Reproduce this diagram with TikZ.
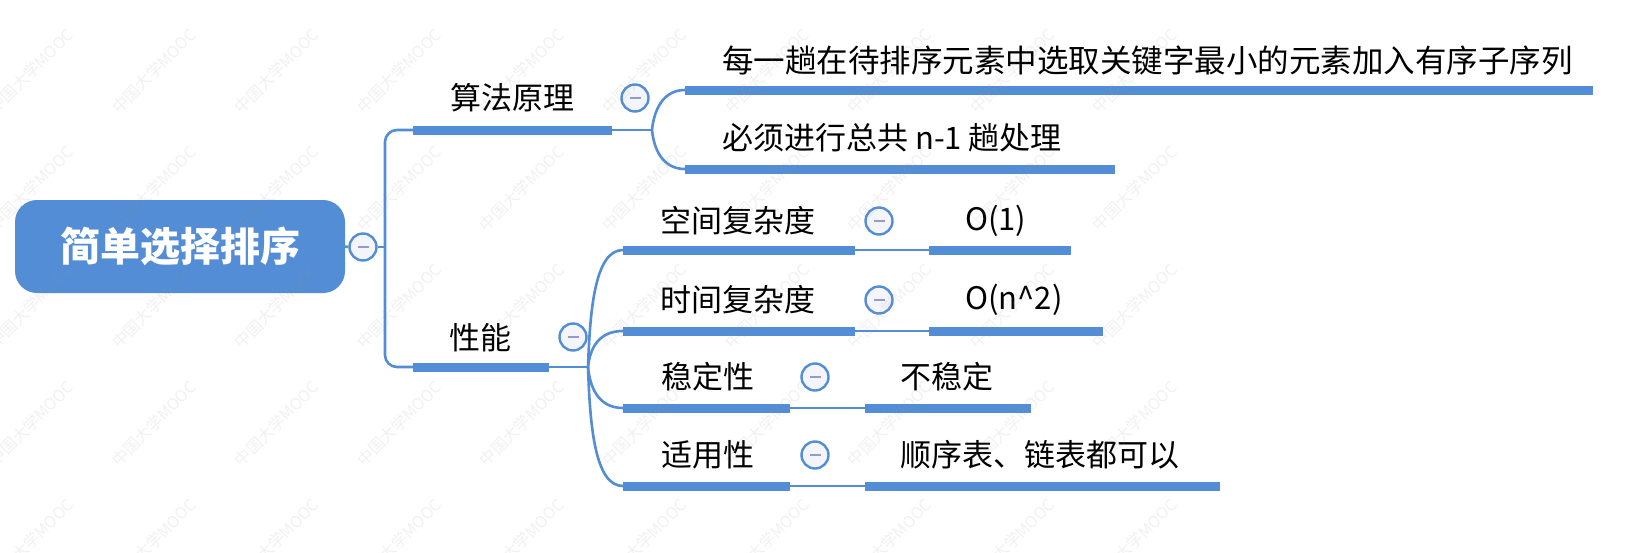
\documentclass[tikz,border=0pt]{standalone}
\usepackage{fontspec}
\setmainfont{Noto Sans CJK SC}
\definecolor{mapblue}{RGB}{83,141,213}
\definecolor{foldfill}{RGB}{244,245,250}
\definecolor{foldbar}{RGB}{150,154,200}
\definecolor{inkgray}{RGB}{150,150,150}

\begin{document}
\begin{tikzpicture}[x=1pt,y=-1pt,
  rootbox/.style={fill=mapblue, rounded corners=22pt, minimum width=330pt,
    minimum height=93pt, inner sep=0pt, text=white,
    font=\fontsize{40}{40}\selectfont\bfseries},
  topic/.style={anchor=west, inner sep=0pt, text=black,
    font=\fontsize{31}{31}\selectfont},
  ulbar/.style={draw=mapblue, line width=9pt},
  conn/.style={draw=mapblue, line width=2.6pt},
  foldbtn/.style={circle, draw=mapblue, fill=foldfill, line width=2.4pt,
    minimum size=27pt, inner sep=0pt,
    path picture={\draw[foldbar, line width=2.6pt]
      ([xshift=-5.5pt]path picture bounding box.center) --
      ([xshift=5.5pt]path picture bounding box.center);}},
  wmark/.style={rotate=45, inner sep=0pt, text=inkgray, text opacity=0.13,
    font=\fontsize{16}{16}\selectfont}
]
\fill[white] (0,0) rectangle (1639,552);
\useasboundingbox (0,0) rectangle (1639,552);

% ---- anchor points of the branch underlines ----
\coordinate (trunk) at (385,247);
\coordinate (p1L) at (413,130); \coordinate (p1R) at (612,130); \coordinate (p1F) at (652,130);
\coordinate (p2L) at (413,367); \coordinate (p2R) at (549,367); \coordinate (p2F) at (588,367);
\coordinate (l1L) at (685,90);  \coordinate (l1R) at (1593,90);
\coordinate (l2L) at (685,169); \coordinate (l2R) at (1115,169);
% children of the performance branch: start, end, value start, value end
\coordinate (c1L) at (623,250); \coordinate (c1R) at (855,250); \coordinate (c1M) at (929,250); \coordinate (c1E) at (1071,250);
\coordinate (c2L) at (623,331); \coordinate (c2R) at (855,331); \coordinate (c2M) at (929,331); \coordinate (c2E) at (1103,331);
\coordinate (c3L) at (623,408); \coordinate (c3R) at (790,408); \coordinate (c3M) at (865,408); \coordinate (c3E) at (1031,408);
\coordinate (c4L) at (623,486); \coordinate (c4R) at (790,486); \coordinate (c4M) at (865,486); \coordinate (c4E) at (1220,486);

% ---- root ----
\node[rootbox] (root) at (180,246.5) {简单选择排序};
\node[foldbtn] (f0) at (363,247) {};

% ---- connectors ----
\draw[conn] (root.east) -- (f0.west);
\draw[conn] (f0.east) -- (trunk);
\draw[conn, rounded corners=12pt] (trunk) |- (p1L);
\draw[conn, rounded corners=12pt] (trunk) |- (p2L);
\draw[conn] (p1R) -- (p1F);
\draw[conn] (p1F) .. controls +(2,-20) and +(-22,0) .. (l1L);
\draw[conn] (p1F) .. controls +(2,20) and +(-22,0) .. (l2L);
\draw[conn] (p2R) -- (p2F);
\draw[conn] (p2F) .. controls +(2,-58) and +(-28,0) .. (c1L);
\draw[conn] (p2F) .. controls +(2,-18) and +(-25,0) .. (c2L);
\draw[conn] (p2F) .. controls +(2,20) and +(-25,0) .. (c3L);
\draw[conn] (p2F) .. controls +(2,60) and +(-28,0) .. (c4L);
\foreach \k in {1,2,3,4} \draw[conn] (c\k R) -- (c\k M);

% ---- underlines ----
\draw[ulbar] (p1L) -- (p1R);
\draw[ulbar] (p2L) -- (p2R);
\draw[ulbar] (l1L) -- (l1R);
\draw[ulbar] (l2L) -- (l2R);
\foreach \k in {1,2,3,4} {
  \draw[ulbar] (c\k L) -- (c\k R);
  \draw[ulbar] (c\k M) -- (c\k E);
}

% ---- topics ----
\node[topic] (t1) at (450,98) {算法原理};
\node[foldbtn] (f1) at (635,98) {};
\node[topic, font=\fontsize{31.5}{31.5}\selectfont] (t11) at (722,60) {每一趟在待排序元素中选取关键字最小的元素加入有序子序列};
\node[topic] (t12) at (722,138) {必须进行总共 n-1 趟处理};

\node[topic] (t2) at (449,338) {性能};
\node[foldbtn] (f2) at (573,337) {};

\node[topic] (t21) at (660,221) {空间复杂度};
\node[foldbtn] (f21) at (879,221) {};
\node[topic] (v21) at (965,221) {O(1)};

\node[topic] (t22) at (660,300) {时间复杂度};
\node[foldbtn] (f22) at (879,300) {};
\node[topic] (v22) at (965,300) {O(n\textasciicircum 2)};

\node[topic] (t23) at (661,377) {稳定性};
\node[foldbtn] (f23) at (815,377) {};
\node[topic] (v23) at (900,377) {不稳定};

\node[topic] (t24) at (661,455) {适用性};
\node[foldbtn] (f24) at (815,455) {};
\node[topic] (v24) at (900,455) {顺序表、链表都可以};

% ---- faint watermark tiles ----
\foreach \i in {-1,...,8}
  \foreach \j in {0,...,4}
    \node[wmark] at ({154+122.6*\i},{71+117.5*\j}) {中国大学MOOC};
\end{tikzpicture}
\end{document}
